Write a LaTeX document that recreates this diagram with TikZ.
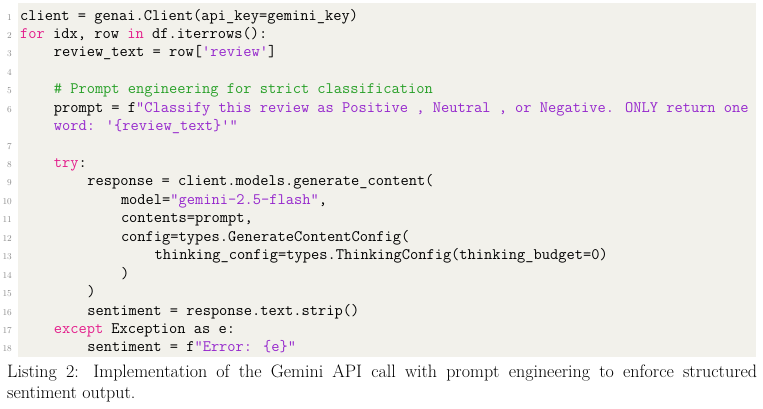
\documentclass[tikz,border=0pt]{standalone}
\usepackage{xcolor}
\definecolor{bgc}{RGB}{242,241,235}
\definecolor{kw}{RGB}{228,30,140}
\definecolor{str}{RGB}{150,40,205}
\definecolor{cmt}{RGB}{40,160,40}
\definecolor{lno}{RGB}{140,140,140}
\newcommand{\K}[1]{\textcolor{kw}{#1}}
\newcommand{\Sx}[1]{\textcolor{str}{#1}}
\newcommand{\Cm}[1]{\textcolor{cmt}{#1}}
\tikzset{code/.style={anchor=base west,inner sep=0pt,font=\ttfamily\fontsize{16}{19}\selectfont},
lnum/.style={anchor=base east,inner sep=0pt,text=lno,font=\fontsize{9}{10}\selectfont}}
% #1 number, #2 row, #3 indent, #4 text
\newcommand{\cl}[4]{\node[lnum] (n#1) at (12pt,{-20pt-18.44pt*(#2-1)}) {#1};
\node[code] (c#1) at ({20pt+33.6pt*#3},{-20pt-18.44pt*(#2-1)}) {#4};}
\begin{document}
\begin{tikzpicture}[x=1pt,y=1pt]
\useasboundingbox (0,0) rectangle (763,-408);
\fill[bgc] (18,-3) rectangle (756,-357);
\cl{1}{1}{0}{client = genai.Client(api\_key=gemini\_key)}
\cl{2}{2}{0}{\K{for} idx, row \K{in} df.iterrows():}
\cl{3}{3}{1}{review\_text = row[\Sx{'review'}]}
\cl{4}{4}{0}{}
\cl{5}{5}{1}{\Cm{\# Prompt engineering for strict classification}}
\cl{6}{6}{1}{prompt = f\Sx{"Classify this review as Positive , Neutral , or Negative. ONLY return one}}
\node[code] (c6b) at (53.6,{-20-18.44*6}) {\Sx{word: '\{review\_text\}'"}};
\cl{7}{8}{0}{}
\cl{8}{9}{1}{\K{try}:}
\cl{9}{10}{2}{response = client.models.generate\_content(}
\cl{10}{11}{3}{model=\Sx{"gemini-2.5-flash"},}
\cl{11}{12}{3}{contents=prompt,}
\cl{12}{13}{3}{config=types.GenerateContentConfig(}
\cl{13}{14}{4}{thinking\_config=types.ThinkingConfig(thinking\_budget=0)}
\cl{14}{15}{3}{)}
\cl{15}{16}{2}{)}
\cl{16}{17}{2}{sentiment = response.text.strip()}
\cl{17}{18}{1}{\K{except} Exception as e:}
\cl{18}{19}{2}{sentiment = f\Sx{"Error: \{e\}"}}
\node[anchor=north west,inner sep=0pt,text width=750pt,align=justify,font=\fontsize{18}{20.5}\selectfont] (cap) at (7,-365)
{Listing 2: Implementation of the Gemini API call with prompt engineering to enforce structured\linebreak sentiment output.};
\end{tikzpicture}
\end{document}
